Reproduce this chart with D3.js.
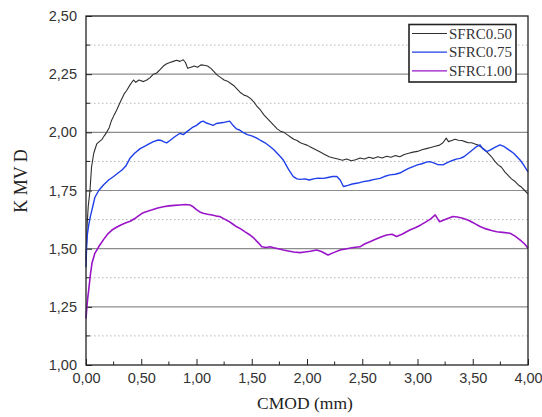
<!DOCTYPE html>
<html><head><meta charset="utf-8">
<script src="https://cdn.jsdelivr.net/npm/d3@7"></script>
<style>body{margin:0;background:#fff}svg{display:block}</style>
</head><body><svg id="c" width="542" height="417"></svg>
<script>
const seriesNames = ["SFRC0.50","SFRC0.75","SFRC1.00"];
const xTicks = [0,0.5,1,1.5,2,2.5,3,3.5,4];
const yTicks = [1,1.25,1.5,1.75,2,2.25,2.5];

const x050 = [0,0.01,0.02,0.036,0.05,0.07,0.097,0.12,0.145,0.165,0.187,0.21,0.23,0.255,0.278,0.30,0.32,0.345,0.368,0.40,0.43,0.45,0.48,0.52,0.55,0.58,0.61,0.64,0.67,0.70,0.73,0.76,0.79,0.82,0.85,0.88,0.90,0.92,0.95,0.98,1.01,1.04,1.07,1.10,1.13,1.16,1.19,1.22,1.25,1.28,1.31,1.34,1.37,1.40,1.43,1.46,1.49,1.52,1.55,1.58,1.61,1.64,1.67,1.70,1.73,1.76,1.79,1.82,1.85,1.88,1.91,1.94,1.97,2.00,2.04,2.08,2.12,2.16,2.20,2.24,2.28,2.32,2.36,2.40,2.44,2.48,2.52,2.56,2.60,2.64,2.68,2.72,2.76,2.80,2.84,2.88,2.92,2.96,3.00,3.04,3.08,3.12,3.16,3.20,3.23,3.26,3.28,3.31,3.34,3.37,3.40,3.43,3.46,3.49,3.52,3.55,3.58,3.61,3.64,3.67,3.70,3.73,3.76,3.79,3.82,3.85,3.88,3.91,3.94,3.97,4.00];
const y050 = [1.45,1.60,1.68,1.75,1.85,1.91,1.95,1.96,1.97,1.985,2.00,2.02,2.05,2.075,2.096,2.12,2.14,2.165,2.18,2.205,2.225,2.215,2.225,2.218,2.225,2.235,2.25,2.255,2.27,2.285,2.295,2.30,2.305,2.31,2.305,2.312,2.30,2.275,2.28,2.285,2.28,2.29,2.288,2.285,2.275,2.26,2.245,2.235,2.225,2.22,2.21,2.20,2.185,2.17,2.16,2.155,2.145,2.13,2.11,2.095,2.075,2.06,2.045,2.03,2.015,2.005,2.00,1.99,1.98,1.97,1.965,1.955,1.95,1.945,1.935,1.925,1.915,1.905,1.895,1.89,1.885,1.88,1.885,1.878,1.882,1.89,1.885,1.893,1.888,1.895,1.89,1.897,1.893,1.90,1.895,1.905,1.91,1.915,1.918,1.925,1.93,1.935,1.94,1.945,1.955,1.975,1.96,1.965,1.97,1.966,1.965,1.96,1.955,1.955,1.95,1.945,1.935,1.925,1.91,1.895,1.875,1.86,1.85,1.83,1.815,1.80,1.79,1.775,1.765,1.75,1.735];

const x075 = [0,0.005,0.012,0.024,0.04,0.054,0.08,0.115,0.16,0.205,0.25,0.29,0.326,0.36,0.40,0.44,0.49,0.53,0.57,0.61,0.654,0.68,0.71,0.73,0.76,0.80,0.85,0.88,0.92,0.96,1.00,1.04,1.06,1.09,1.12,1.15,1.18,1.21,1.24,1.27,1.30,1.33,1.36,1.39,1.42,1.46,1.50,1.545,1.58,1.62,1.665,1.70,1.73,1.76,1.786,1.81,1.84,1.876,1.91,1.94,1.98,2.02,2.06,2.10,2.147,2.19,2.23,2.27,2.30,2.33,2.37,2.41,2.46,2.51,2.56,2.61,2.66,2.70,2.75,2.80,2.84,2.88,2.92,2.96,3.00,3.04,3.08,3.11,3.14,3.18,3.23,3.27,3.31,3.35,3.385,3.42,3.46,3.50,3.535,3.566,3.59,3.626,3.66,3.70,3.747,3.78,3.81,3.84,3.87,3.90,3.93,3.96,3.99,4.00];
const y075 = [1.42,1.50,1.56,1.60,1.64,1.667,1.72,1.75,1.775,1.795,1.81,1.825,1.838,1.855,1.89,1.91,1.93,1.94,1.95,1.96,1.967,1.965,1.958,1.955,1.965,1.98,1.996,1.99,2.005,2.02,2.03,2.045,2.048,2.04,2.035,2.03,2.038,2.04,2.042,2.045,2.048,2.03,2.015,2.01,2.00,1.99,1.985,1.975,1.965,1.955,1.939,1.925,1.91,1.895,1.881,1.86,1.835,1.81,1.80,1.798,1.80,1.795,1.80,1.803,1.802,1.806,1.81,1.81,1.795,1.767,1.772,1.778,1.782,1.788,1.792,1.798,1.802,1.81,1.817,1.82,1.825,1.835,1.845,1.853,1.86,1.865,1.872,1.874,1.87,1.862,1.86,1.87,1.878,1.885,1.888,1.895,1.91,1.925,1.939,1.946,1.93,1.917,1.925,1.935,1.946,1.94,1.93,1.92,1.91,1.895,1.88,1.86,1.838,1.83];

const x100 = [0,0.008,0.016,0.024,0.04,0.054,0.08,0.115,0.16,0.20,0.235,0.28,0.32,0.356,0.40,0.45,0.507,0.55,0.60,0.65,0.70,0.75,0.80,0.85,0.90,0.94,0.97,1.00,1.03,1.06,1.10,1.14,1.18,1.21,1.25,1.29,1.33,1.36,1.40,1.44,1.48,1.52,1.56,1.59,1.63,1.665,1.70,1.74,1.786,1.83,1.88,1.937,1.98,2.03,2.087,2.13,2.19,2.24,2.30,2.36,2.42,2.48,2.52,2.57,2.62,2.67,2.72,2.77,2.81,2.86,2.93,2.98,3.03,3.08,3.12,3.16,3.18,3.20,3.25,3.32,3.36,3.41,3.46,3.51,3.566,3.62,3.67,3.717,3.77,3.837,3.88,3.93,3.97,4.00];
const y100 = [1.20,1.25,1.29,1.32,1.39,1.437,1.48,1.508,1.54,1.565,1.58,1.593,1.603,1.61,1.618,1.632,1.652,1.66,1.667,1.675,1.68,1.684,1.686,1.688,1.69,1.688,1.68,1.668,1.658,1.652,1.648,1.645,1.64,1.638,1.628,1.618,1.605,1.595,1.585,1.572,1.56,1.545,1.525,1.508,1.505,1.508,1.504,1.50,1.494,1.49,1.486,1.483,1.486,1.489,1.494,1.488,1.473,1.483,1.494,1.50,1.505,1.508,1.52,1.53,1.54,1.55,1.559,1.562,1.552,1.562,1.58,1.59,1.602,1.616,1.628,1.645,1.63,1.616,1.625,1.638,1.636,1.631,1.622,1.61,1.595,1.585,1.578,1.573,1.57,1.566,1.555,1.537,1.52,1.502];

const colors = ["#2f2f2f","#1f3fe8","#9a14c8"];
const widths = [1.1,1.4,1.6];

const L=86,R=528,T=16,B=365;
const svg=d3.select("#c");
const xs=d3.scaleLinear().domain([0,4]).range([L,R]);
const ys=d3.scaleLinear().domain([1,2.5]).range([B,T]);
const fmt=d=>d3.format(".2f")(d).replace(".",",");

// minor dotted grid
const yMinor=d3.range(1.125,2.5,0.25);
svg.append("g").selectAll("line").data(yMinor).join("line")
  .attr("x1",L).attr("x2",R).attr("y1",d=>ys(d)).attr("y2",d=>ys(d))
  .attr("stroke","#b5b5b5").attr("stroke-width",1).attr("stroke-dasharray","1.5,2.5");
svg.append("g").selectAll("line").data(yTicks.slice(1,-1)).join("line")
  .attr("x1",L).attr("x2",R).attr("y1",d=>ys(d)).attr("y2",d=>ys(d))
  .attr("stroke","#8c8c8c").attr("stroke-width",1.2);

// axes
const xAxis=d3.axisBottom(xs).tickValues(xTicks).tickFormat(fmt).tickSizeInner(-6).tickSizeOuter(0).tickPadding(8);
const gx=svg.append("g").attr("transform",`translate(0,${B})`).call(xAxis);
const yAxis=d3.axisLeft(ys).tickValues(yTicks).tickFormat(fmt).tickSizeInner(-6).tickSizeOuter(0).tickPadding(9);
const gy=svg.append("g").attr("transform",`translate(${L},0)`).call(yAxis);
[gx,gy].forEach(g=>{g.select(".domain").remove();g.selectAll("line").attr("stroke","#222");
  g.selectAll("text").attr("font-family","Liberation Sans, Arial, sans-serif").attr("font-size",14.5).attr("fill","#333");});
// minor ticks
svg.append("g").selectAll("line").data(d3.range(0.25,4,0.5)).join("line")
  .attr("x1",d=>xs(d)).attr("x2",d=>xs(d)).attr("y1",B).attr("y2",B-3.5).attr("stroke","#222");
svg.append("g").selectAll("line").data(yMinor).join("line")
  .attr("x1",L).attr("x2",L+4).attr("y1",d=>ys(d)).attr("y2",d=>ys(d)).attr("stroke","#222");

// curves
const data=[[x050,y050],[x075,y075],[x100,y100]];
const line=d3.line().x(d=>xs(d[0])).y(d=>ys(d[1]));
data.forEach((s,i)=>{
  const pts=s[0].map((v,j)=>[v,s[1][j]]);
  svg.append("path").datum(pts).attr("d",line).attr("fill","none")
    .attr("stroke",colors[i]).attr("stroke-width",widths[i]).attr("stroke-linejoin","round");
});

// frame
svg.append("rect").attr("x",L).attr("y",T).attr("width",R-L).attr("height",B-T)
  .attr("fill","none").attr("stroke","#222").attr("stroke-width",1.3);

// legend
const lg=svg.append("g");
lg.append("rect").attr("x",409).attr("y",24.5).attr("width",107).attr("height",57.5)
  .attr("fill","#fff").attr("stroke","#222").attr("stroke-width",1.6);
seriesNames.forEach((n,i)=>{
  const cy=33.5+i*18.7;
  lg.append("line").attr("x1",412).attr("x2",447).attr("y1",cy).attr("y2",cy)
    .attr("stroke",colors[i]).attr("stroke-width",1.2);
  lg.append("text").attr("x",449).attr("y",cy+5).text(n)
    .attr("font-family","Liberation Serif, Times New Roman, serif").attr("font-size",15).attr("fill","#333");
});

// titles
svg.append("text").attr("x",305).attr("y",409).attr("text-anchor","middle").text("CMOD (mm)")
  .attr("font-family","Liberation Serif, Times New Roman, serif").attr("font-size",17.5).attr("fill","#222");
svg.append("text").attr("transform","translate(27,181) rotate(-90)").attr("text-anchor","middle").text("K MV D")
  .attr("font-family","Liberation Serif, Times New Roman, serif").attr("font-size",18).attr("fill","#222");
</script></body></html>
